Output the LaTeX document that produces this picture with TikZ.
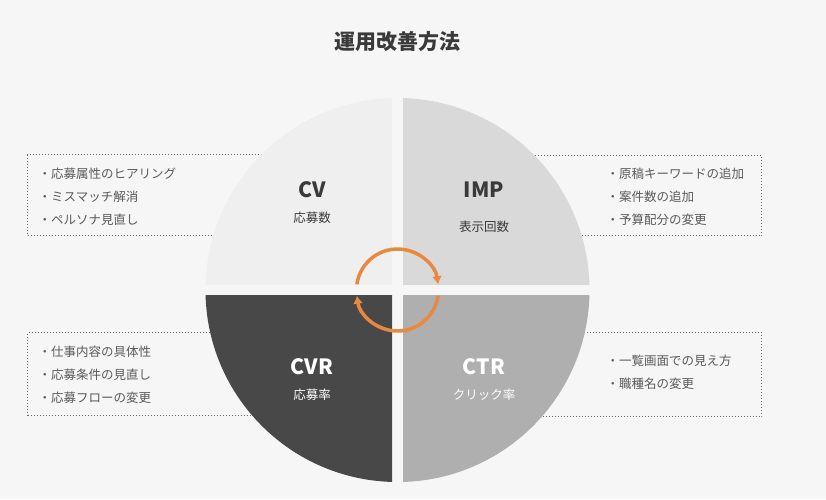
\documentclass[tikz,border=0pt]{standalone}
\usepackage{fontspec}
\setmainfont{Noto Sans CJK JP}
\usetikzlibrary{positioning,arrows.meta}
\definecolor{bgfill}{HTML}{F6F6F6}
\definecolor{cvfill}{HTML}{EFEFEF}
\definecolor{impfill}{HTML}{D9D9D9}
\definecolor{cvrfill}{HTML}{484848}
\definecolor{ctrfill}{HTML}{AFAFAF}
\definecolor{cycorange}{HTML}{E8893F}
\definecolor{titlegray}{HTML}{3A3A3A}
\definecolor{itemgray}{HTML}{5A5A5A}
\definecolor{dotgray}{HTML}{6A6A6A}

\begin{document}
\begin{tikzpicture}[x=1pt,y=-1pt,
    mylabel/.style={font=\fontsize{21}{21}\selectfont\bfseries,inner sep=0pt},
    mysub/.style={font=\fontsize{12.5}{12.5}\selectfont,inner sep=0pt},
    dotbox/.style={draw=dotgray,line width=1pt,dash pattern=on 1pt off 2pt,minimum width=300pt,inner sep=0pt},
    items/.style={font=\fontsize{12.5}{23}\selectfont,text=itemgray,align=left,inner sep=0pt,anchor=west},
    cycarrow/.style={draw=cycorange,line width=3.5pt,-{Latex[length=8pt,width=10pt]}}
    ]

    \fill[bgfill] (0,0) rectangle (826,499);
    \useasboundingbox (0,0) rectangle (826,499);

    \node[font=\fontsize{21}{21}\selectfont\bfseries,text=titlegray] (title) at (397,42) {運用改善方法};

    % dotted boxes behind the circle
    \node[dotbox,anchor=north west,minimum height=81pt] (cvbox) at (27,154) {};
    \node[dotbox,anchor=north east,minimum height=80pt] (impbox) at (762,155) {};
    \node[dotbox,anchor=north west,minimum height=83pt] (cvrbox) at (27,332) {};
    \node[dotbox,anchor=north east,minimum height=84pt] (ctrbox) at (762,332) {};

    \node[items] (cvitems) at (38.5,197) {・応募属性のヒアリング\\・ミスマッチ解消\\・ペルソナ見直し};
    \node[items] (impitems) at (606.5,197) {・原稿キーワードの追加\\・案件数の追加\\・予算配分の変更};
    \node[items] (cvritems) at (38.5,375) {・仕事内容の具体性\\・応募条件の見直し\\・応募フローの変更};
    \node[items] (ctritems) at (606.5,372) {・一覧画面での見え方\\・職種名の変更};

    % four quarters
    \coordinate (c) at (397.5,290);
    \foreach \sx/\sy/\col in {-1/-1/cvfill, 1/-1/impfill, -1/1/cvrfill, 1/1/ctrfill} {
      \begin{scope}
        \clip (c) ++(\sx*5.5,\sy*5.5) rectangle ++(\sx*200,\sy*200);
        \fill[\col] (c) circle[radius=192];
      \end{scope}
    }

    \node[mylabel,text=titlegray] (cv) at (312,190) {CV};
    \node[mysub,text=titlegray,below=13pt of cv] (cvsub) {応募数};
    \node[mylabel,text=titlegray] (imp) at (484,190) {IMP};
    \node[mysub,text=titlegray,below=23pt of imp] (impsub) {表示回数};
    \node[mylabel,text=white] (cvr) at (312,367) {CVR};
    \node[mysub,text=white,below=13pt of cvr] (cvrsub) {応募率};
    \node[mylabel,text=white] (ctr) at (484,367) {CTR};
    \node[mysub,text=white,below=13pt of ctr] (ctrsub) {クリック率};

    % cycle arrows
    \draw[cycarrow] (c) ++(188:41) arc[start angle=188,end angle=352,radius=41];
    \draw[cycarrow] (c) ++(8:41) arc[start angle=8,end angle=172,radius=41];

  \end{tikzpicture}
\end{document}
